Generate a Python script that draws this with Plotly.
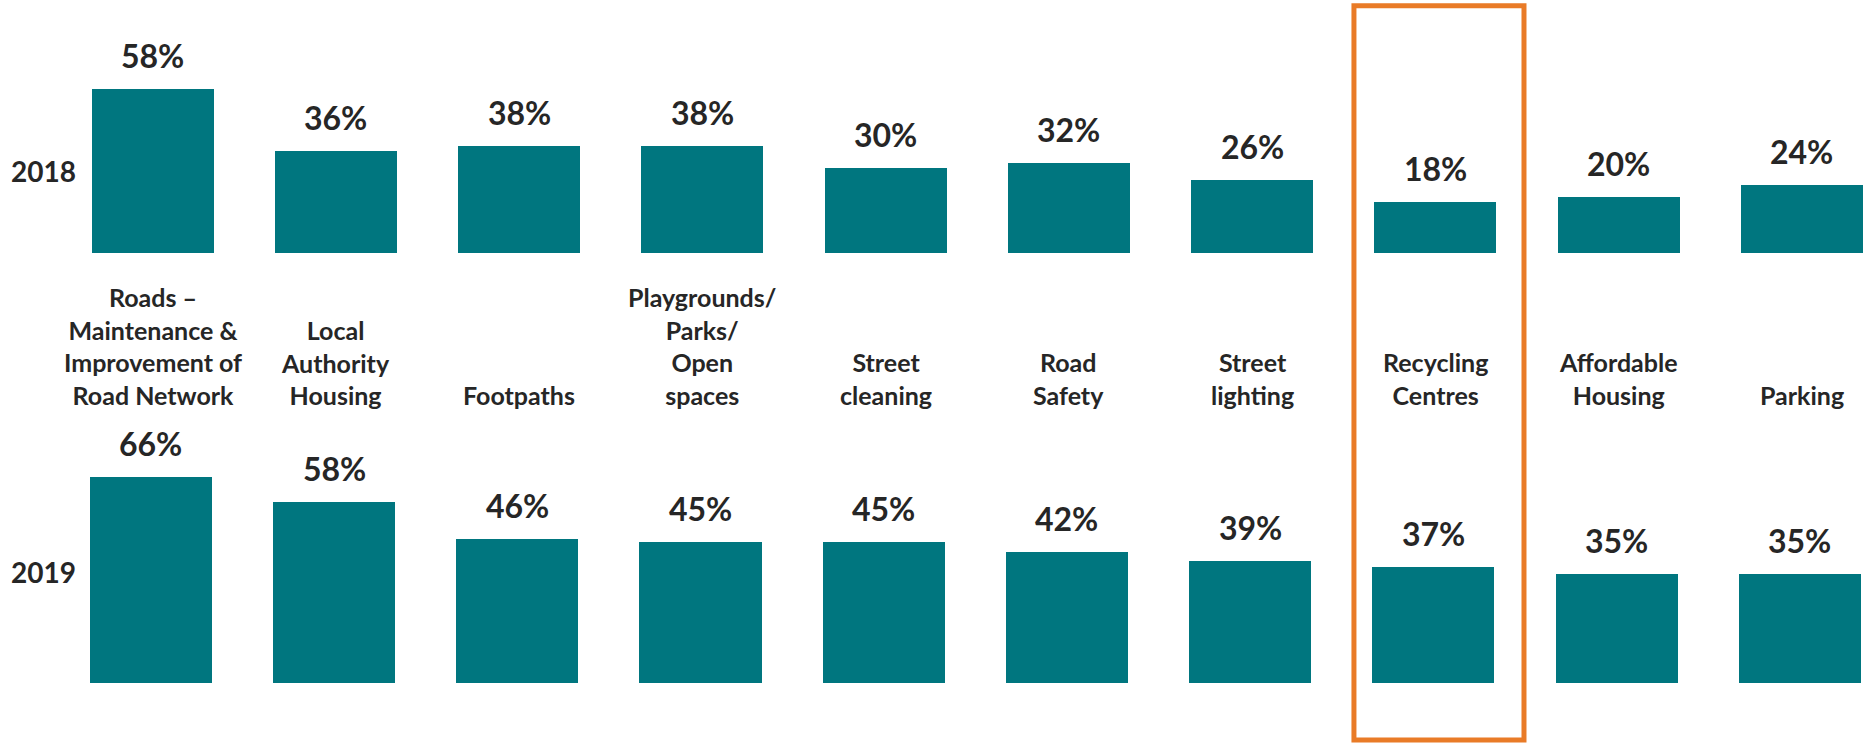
import plotly.graph_objects as go

# ---- data ----
categories = [
    "Roads –<br>Maintenance &<br>Improvement of<br>Road Network",
    "Local<br>Authority<br>Housing",
    "Footpaths",
    "Playgrounds/<br>Parks/<br>Open<br>spaces",
    "Street<br>cleaning",
    "Road<br>Safety",
    "Street<br>lighting",
    "Recycling<br>Centres",
    "Affordable<br>Housing",
    "Parking",
]
years = ["2018", "2019"]
values_2018 = [58, 36, 38, 38, 30, 32, 26, 18, 20, 24]
values_2019 = [66, 58, 46, 45, 45, 42, 39, 37, 35, 35]
highlight = "Recycling<br>Centres"

# ---- style ----
TEAL = "#00767F"
ORANGE = "#E97B27"
TXT = "#262626"
FONT = "Lato"
W, H = 1866, 743

fig = go.Figure()
fig.add_trace(go.Bar(x=categories, y=values_2018, xaxis="x", yaxis="y",
                     marker=dict(color=TEAL, line=dict(width=0)), width=0.666,
                     hoverinfo="skip", showlegend=False))
fig.add_trace(go.Bar(x=categories, y=values_2019, xaxis="x2", yaxis="y2",
                     marker=dict(color=TEAL, line=dict(width=0)), width=0.666,
                     hoverinfo="skip", showlegend=False))

annotations = []
for xr, yr, vals in (("x", "y", values_2018), ("x2", "y2", values_2019)):
    for c, v in zip(categories, vals):
        annotations.append(dict(x=c, y=v, xref=xr, yref=yr, text=f"{v}%",
                                showarrow=False, yanchor="bottom", yshift=12,
                                font=dict(family=FONT, size=32, color=TXT,
                                          weight="bold")))

# category labels between the two panels (bottom aligned)
for c in categories:
    annotations.append(dict(x=c, y=1 - 412 / H, xref="x", yref="paper", text=c,
                            showarrow=False, yanchor="bottom", align="center",
                            font=dict(family=FONT, size=25, color=TXT,
                                      weight="bold")))

# year labels
for yname, ypx in zip(years, (171, 572)):
    annotations.append(dict(x=43 / W, y=1 - ypx / H, xref="paper", yref="paper",
                            text=yname, showarrow=False, xanchor="center",
                            yanchor="middle",
                            font=dict(family=FONT, size=28, color=TXT,
                                      weight="bold")))

hi = categories.index(highlight)
shapes = [dict(type="rect", xref="x", yref="paper",
               x0=hi - 0.444, x1=hi + 0.484,
               y0=1 - 740 / H, y1=1 - 5.8 / H,
               line=dict(color=ORANGE, width=5), fillcolor="rgba(0,0,0,0)")]

axis_off = dict(showgrid=False, zeroline=False, showticklabels=False,
                showline=False, ticks="")
fig.update_layout(
    width=W, height=H,
    margin=dict(l=0, r=0, t=0, b=0, pad=0),
    paper_bgcolor="white", plot_bgcolor="white",
    xaxis=dict(domain=[0, 1], range=[-0.8334, 9.3506], type="category",
               anchor="y", **axis_off),
    xaxis2=dict(domain=[0, 1], range=[-0.823, 9.361], type="category",
                anchor="y2", **axis_off),
    yaxis=dict(domain=[1 - 253.3 / H, 1], range=[0, 253.3 / 2.828],
               anchor="x", **axis_off),
    yaxis2=dict(domain=[1 - 683.3 / H, 1 - 330 / H],
                range=[0, (683.3 - 330) / 3.13], anchor="x2", **axis_off),
    annotations=annotations,
    shapes=shapes,
    bargap=0,
)

fig.write_html("out.html",
               config={"displayModeBar": False},
               post_script="document.body.style.margin='0px';"
                           "document.body.style.overflow='hidden';")
